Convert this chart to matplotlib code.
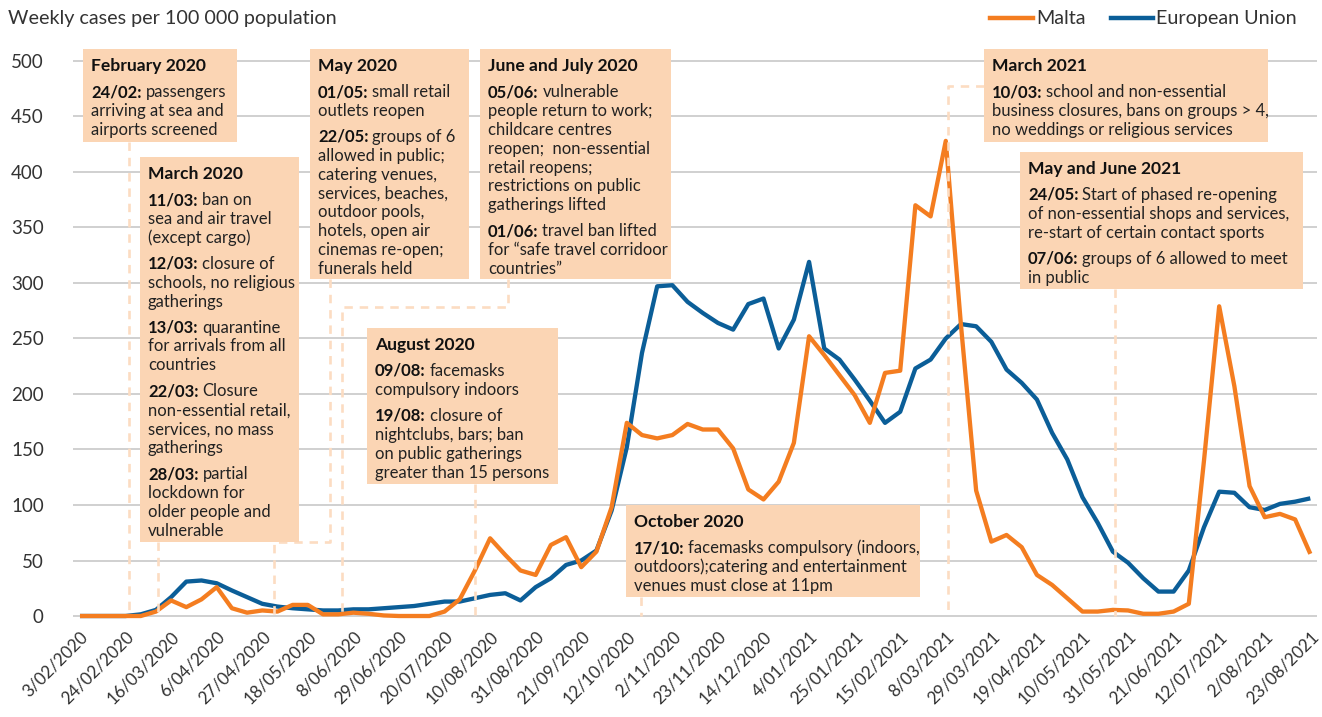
import matplotlib
matplotlib.use("Agg")
import matplotlib.pyplot as plt
from matplotlib.patches import Rectangle
from matplotlib.lines import Line2D
from matplotlib.transforms import Affine2D

W, H = 1322, 717
plt.rcParams['font.family'] = ['Lato', 'DejaVu Sans']

# ---------------- data ----------------
tick_labels = ["3/02/2020", "24/02/2020", "16/03/2020", "6/04/2020", "27/04/2020",
               "18/05/2020", "8/06/2020", "29/06/2020", "20/07/2020", "10/08/2020",
               "31/08/2020", "21/09/2020", "12/10/2020", "2/11/2020", "23/11/2020",
               "14/12/2020", "4/01/2021", "25/01/2021", "15/02/2021", "8/03/2021",
               "29/03/2021", "19/04/2021", "10/05/2021", "31/05/2021", "21/06/2021",
               "12/07/2021", "2/08/2021", "23/08/2021"]

malta = [0, 0, 0, 0, 0, 4, 14, 8, 15, 26,
         7, 3, 5, 4, 10, 10, 1.5, 1.5, 3, 2,
         0.5, 0, 0, 0, 4, 15, 41, 70, 55, 41,
         37, 64, 71, 44, 58, 98, 174, 163, 160, 163,
         173, 168, 168, 151, 114, 105, 121, 156, 252, 235,
         217, 199, 174, 219, 221, 370, 360, 428, 262, 113,
         67, 73, 62, 37, 28, 16, 4, 4, 5.5, 5,
         2, 2, 4, 11, 140, 279, 207, 117, 89, 92,
         87, 56]

eu = [0, 0, 0, 0, 1.5, 5.5, 17, 31, 32, 29.5,
      23, 17, 11, 8.5, 7, 6, 5, 5, 6, 6,
      7, 8, 9, 11, 13, 13, 16, 19, 20.5, 14,
      26, 34, 46, 50, 59, 95, 152, 237, 297, 298,
      283, 273, 264, 258, 281, 286, 241, 267, 319, 241,
      231, 213, 194, 174, 184, 223, 231, 250, 263, 261,
      247, 222, 210, 195, 165, 141, 107, 84, 58, 48,
      34, 22, 22, 41, 80, 112, 111, 98, 95.5, 101,
      103, 106]

weeks = list(range(len(malta)))
tick_pos = weeks[::3]
y_ticks = [0, 50, 100, 150, 200, 250, 300, 350, 400, 450, 500]

ORANGE = "#F47D20"
BLUE = "#0B5E98"
PEACH = "#FBD5B4"
DASH = "#FCDCC2"
TXT = "#222222"

# ---------------- figure ----------------
fig = plt.figure(figsize=(W / 100, H / 100), dpi=100)
ax = fig.add_axes([73 / W, 1 - 620 / H, (1317 - 73) / W, (620 - 40) / H])
ax.set_xlim(-0.46, 81.44)
ax.set_ylim(-3.6, 518.9)
for s in ax.spines.values():
    s.set_visible(False)
ax.set_yticks(y_ticks)
ax.set_yticklabels([str(v) for v in y_ticks], fontsize=13.5, color="#333333")
ax.set_xticks(tick_pos)
ax.set_xticklabels(tick_labels, rotation=45, ha="right", va="top",
                   rotation_mode="anchor", fontsize=12.3, color="#333333")
ax.tick_params(axis="both", length=0)
ax.tick_params(axis="y", pad=21)
ax.tick_params(axis="x", pad=6)
ax.grid(axis="y", color="#C8C8C8", lw=1.2)
ax.set_axisbelow(True)

ax.plot(weeks, eu, color=BLUE, lw=3.1, zorder=3, solid_capstyle="butt")
ax.plot(weeks, malta, color=ORANGE, lw=3.1, zorder=3.1, solid_capstyle="butt")

# pixel transform (origin top-left)
P = Affine2D().scale(1 / W, -1 / H).translate(0, 1) + fig.transFigure

# title
fig.text(8, 24, "Weekly cases per 100 000 population", transform=P,
         fontsize=14.2, color="#333333", va="baseline")

# legend
for (x0, x1, tx, lab, col) in [(990, 1033, 1036, "Malta", ORANGE),
                               (1111, 1153, 1156, "European Union", BLUE)]:
    fig.add_artist(Line2D([x0, x1], [18, 18], transform=P, color=col, lw=3.2))
    fig.text(tx, 24, lab, transform=P, fontsize=14.2, color="#333333", va="baseline")

# ---------------- annotations ----------------
boxes = [
    dict(rect=(83, 49, 237, 142), title="February 2020",
         entries=[("24/02:", ["passengers", "arriving at sea and", "airports screened"])],
         conn=[(129, 142), (129, 616)]),
    dict(rect=(140, 157, 299, 542), title="March 2020",
         entries=[("11/03:", ["ban on", "sea and air travel", "(except cargo)"]),
                  ("12/03:", ["closure of", "schools, no religious", "gatherings"]),
                  ("13/03:", ["quarantine", "for arrivals from all", "countries"]),
                  ("22/03:", ["Closure", "non-essential retail,", "services, no mass", "gatherings"]),
                  ("28/03:", ["partial", "lockdown for", "older people and", "vulnerable"])],
         conn=[(158, 542), (158, 616)]),
    dict(rect=(310, 49, 469, 279), title="May 2020",
         entries=[("01/05:", ["small retail", "outlets reopen"]),
                  ("22/05:", ["groups of 6", "allowed in public;", "catering venues,",
                              "services, beaches,", "outdoor pools,", "hotels, open air",
                              "cinemas re-open;", "funerals held"])],
         conn=[(330, 279), (330, 542), (274, 542), (274, 616)]),
    dict(rect=(480, 49, 671, 279), title="June and July 2020",
         entries=[("05/06:", ["vulnerable", "people return to work;", "childcare centres",
                              "reopen;  non-essential", "retail reopens;",
                              "restrictions on public", "gatherings lifted"]),
                  ("01/06:", ["travel ban lifted", "for \u201csafe travel corridoor",
                              "countries\u201d"])],
         conn=[(508, 279), (508, 307), (342, 307), (342, 616)]),
    dict(rect=(367, 328, 558, 484), title="August 2020",
         entries=[("09/08:", ["facemasks", "compulsory indoors"]),
                  ("19/08:", ["closure of", "nightclubs, bars; ban",
                              "on public gatherings", "greater than 15 persons"])],
         conn=[(475, 484), (475, 616)]),
    dict(rect=(626, 505, 920, 597), title="October 2020",
         entries=[("17/10:", ["facemasks compulsory (indoors,",
                              "outdoors);catering and entertainment",
                              "venues must close at 11pm"])],
         conn=[(641, 597), (641, 616)]),
    dict(rect=(984, 49, 1268, 142), title="March 2021",
         entries=[("10/03:", ["school and non-essential",
                              "business closures, bans on groups > 4,",
                              "no weddings or religious services"])],
         conn=[(984, 86), (948, 86), (948, 616)]),
    dict(rect=(1020, 152, 1303, 289), title="May and June 2021",
         entries=[("24/05:", ["Start of phased re-opening",
                              "of non-essential shops and services,",
                              "re-start of certain contact sports"]),
                  ("07/06:", ["groups of 6 allowed to meet", "in public"])],
         conn=[(1115, 289), (1115, 616)]),
]

renderer = fig.canvas.get_renderer()
FS = 12.0
LSTEP = 18.9
PGAP = 26.0

for b in boxes:
    x0, y0, x1, y1 = b["rect"]
    xs = [p[0] for p in b["conn"]]
    ys = [p[1] for p in b["conn"]]
    fig.add_artist(Line2D(xs, ys, transform=P, color=DASH, lw=1.9,
                          dashes=(3.2, 2.6), zorder=5))
    fig.add_artist(Rectangle((x0, y0), x1 - x0, y1 - y0, transform=P,
                             facecolor=PEACH, edgecolor="none", zorder=6))
    tx = x0 + 8
    fig.text(tx, y0 + 22, b["title"], transform=P, fontsize=12.6,
             fontweight="bold", color="#111111", va="baseline", zorder=7)
    yb = y0 + 48
    for bold, lines in b["entries"]:
        t = fig.text(tx, yb, bold, transform=P, fontsize=FS, fontweight="bold",
                     color="#111111", va="baseline", zorder=7)
        wpx = t.get_window_extent(renderer).width
        fig.text(tx + wpx + 4, yb, lines[0], transform=P, fontsize=FS,
                 color=TXT, va="baseline", zorder=7)
        for ln in lines[1:]:
            yb += LSTEP
            fig.text(tx, yb, ln, transform=P, fontsize=FS, color=TXT,
                     va="baseline", zorder=7)
        yb += PGAP

fig.savefig("out.png", dpi=100)
